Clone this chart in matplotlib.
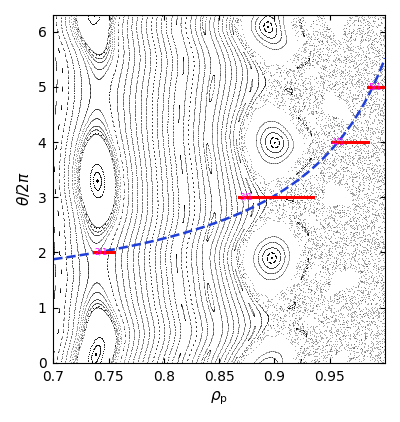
import numpy as np
import matplotlib.pyplot as plt

# safety factor model q(rho) = Q0 + QA/(QD - rho), fitted to the blue dashed curve
Q0, QA, QD = 0.785, 0.426, 1.09
# resonant helical modes (m, n=1): amplitude and phase
modes  = [2, 3, 4, 5, 6]
eps    = [0.0002, 0.0008, 0.0008, 0.0009, 0.001]
phase  = [-0.32, 0.58, 0.3, 1.0, 0.5]
# red island-width bars (rho range) and labels
bar_q   = [2, 3, 4, 5]
bar_lo  = [0.737, 0.868, 0.952, 0.985]
bar_hi  = [0.755, 0.935, 0.985, 1.000]
bar_lab = ['2/1', '3/1', '4/1', '5/1']

def q(r):
    return Q0 + QA/(QD - r)

def rhs(r, th, ph):
    dr = np.zeros_like(r)
    for m, e, p in zip(modes, eps, phase):
        dr += e*np.sin(m*th - ph + p)
    return dr, 1.0/q(r)

# start surfaces plus seeds inside the big islands
r_isl = [0.733, 0.736, 0.739, 0.893, 0.897, 0.901, 0.905, 0.909, 0.913]
t_isl = [3.3, 3.3, 3.3, 1.9, 1.9, 1.9, 1.9, 1.9, 1.9]
r0 = np.concatenate([np.linspace(0.70, 0.995, 62), r_isl])
t0 = np.concatenate([np.full(62, 1.0), t_isl])
r, th = r0.copy(), t0.copy()
n_turn, n_sub = 500, 32
h = 2*np.pi/n_sub
R, T = [], []
for k in range(n_turn):
    for s in range(n_sub):
        ph = s*h
        a1, b1 = rhs(r, th, ph)
        a2, b2 = rhs(r + h*a1, th + h*b1, ph + h)
        r = r + 0.5*h*(a1 + a2)
        th = th + 0.5*h*(b1 + b2)
    R.append(r.copy()); T.append(th % (2*np.pi))
R = np.concatenate(R); T = np.concatenate(T)

fig, ax = plt.subplots(figsize=(4, 4.22), dpi=100)
ax.scatter(R, T, s=0.5, c='k', marker='.', lw=0)
rr = np.linspace(0.7, 1.0, 300)
ax.plot(rr, q(rr), '--', color='#1f3fd8', lw=1.8)
for y, lo, hi, lab in zip(bar_q, bar_lo, bar_hi, bar_lab):
    ax.plot([lo, hi], [y, y], color='red', lw=2.2)
    ax.text(lo, y, lab, color='magenta', fontsize=6, ha='left', va='center')
ax.set_xlim(0.7, 1.0); ax.set_ylim(0, 6.3)
ax.set_xticks([0.7, 0.75, 0.8, 0.85, 0.9, 0.95])
ax.set_xticklabels(['0.7', '0.75', '0.8', '0.85', '0.9', '0.95'])
ax.set_yticks(range(7))
ax.set_xlabel(r'$\rho_\mathrm{p}$', fontsize=11)
ax.set_ylabel(r'$\theta/2\pi$', fontsize=11)
ax.tick_params(direction='in', top=True, right=True, labelsize=10, pad=5)
plt.tight_layout()
plt.savefig('out.png', dpi=100)
